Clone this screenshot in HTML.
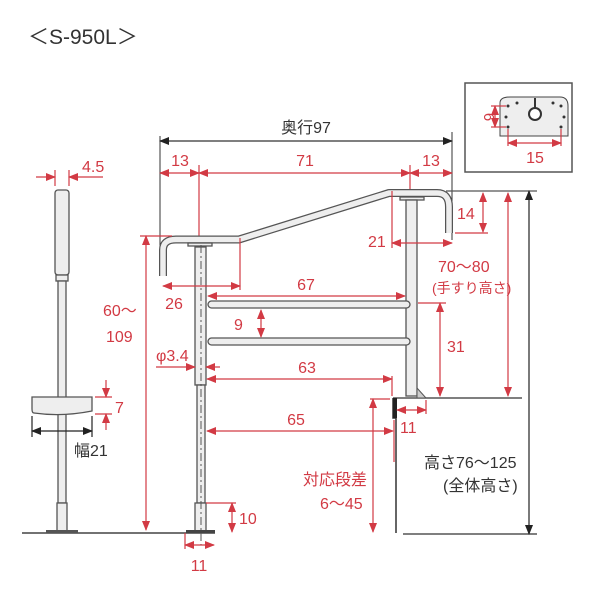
<!DOCTYPE html>
<html><head><meta charset="utf-8"><style>
body{margin:0;background:#fff}
svg{display:block}
text{font-family:"Liberation Sans","Noto Sans CJK JP",sans-serif}
.r{fill:#d23a44;font-size:16px}
.k{fill:#333;font-size:16px}
</style></head><body>
<svg width="600" height="600" viewBox="0 0 600 600" xmlns="http://www.w3.org/2000/svg">
<defs>
<marker id="ar" markerWidth="10" markerHeight="8" refX="9" refY="4" orient="auto-start-reverse" markerUnits="userSpaceOnUse"><path d="M0,0 L10,4 L0,8z" fill="#d23a44"/></marker>
<marker id="ak" markerWidth="10" markerHeight="8" refX="9" refY="4" orient="auto-start-reverse" markerUnits="userSpaceOnUse"><path d="M0,0 L10,4 L0,8z" fill="#222"/></marker>
</defs>
<text x="28" y="44" style="font-size:21px;fill:#333">＜S-950L＞</text>

<!-- inset -->
<rect x="465" y="83" width="107" height="89" fill="#fff" stroke="#555" stroke-width="1.5"/>
<path d="M500,136 V103 Q500,97 510,97 H560 Q568,97 568,106 V136Z" fill="#eee" stroke="#444"/>
<circle cx="535" cy="114" r="6" fill="#fff" stroke="#333" stroke-width="2"/>
<line x1="535" y1="98" x2="535" y2="108" stroke="#333" stroke-width="2"/>
<g fill="#333"><circle cx="508" cy="106" r="1.5"/><circle cx="517" cy="103" r="1.5"/><circle cx="553" cy="103" r="1.5"/><circle cx="561" cy="106" r="1.5"/><circle cx="506" cy="117" r="1.5"/><circle cx="564" cy="117" r="1.5"/><circle cx="508" cy="127" r="1.5"/><circle cx="561" cy="127" r="1.5"/></g>
<g stroke="#d23a44" stroke-width="1.2" fill="none">
<line x1="491" y1="106" x2="506" y2="106"/><line x1="491" y1="127" x2="506" y2="127"/>
<line x1="495" y1="106" x2="495" y2="127" marker-start="url(#ar)" marker-end="url(#ar)"/>
<line x1="508" y1="129" x2="508" y2="146"/><line x1="561" y1="129" x2="561" y2="146"/>
<line x1="508" y1="143" x2="561" y2="143" marker-start="url(#ar)" marker-end="url(#ar)"/>
</g>
<text class="r" x="484" y="117" transform="rotate(90 484 117)" text-anchor="middle" style="font-size:15px">6</text>
<text class="r" x="535" y="163" text-anchor="middle">15</text>

<!-- side view -->
<g stroke="#555" stroke-width="1.3" fill="#eee">
<rect x="55" y="190" width="14" height="85" rx="3"/>
<rect x="56" y="275" width="12" height="6"/>
<rect x="58" y="281" width="8" height="222"/>
<rect x="57" y="503" width="10" height="28"/>
<path d="M32,397 H92 V411 Q62,417 34,413 Q32,413 32,409Z"/>
</g>
<line x1="22" y1="533" x2="215" y2="533" stroke="#444" stroke-width="1.5"/>
<rect x="46" y="530" width="32" height="3" fill="#555"/>
<g stroke="#d23a44" stroke-width="1.2" fill="none">
<line x1="55" y1="170" x2="55" y2="186"/><line x1="69" y1="170" x2="69" y2="186"/>
<line x1="36" y1="177" x2="55" y2="177" marker-end="url(#ar)"/><line x1="103" y1="177" x2="69" y2="177" marker-end="url(#ar)"/>
<line x1="95" y1="397" x2="112" y2="397"/><line x1="95" y1="414" x2="112" y2="414"/>
<line x1="106" y1="380" x2="106" y2="397" marker-end="url(#ar)"/><line x1="106" y1="430" x2="106" y2="414" marker-end="url(#ar)"/>
</g>
<text class="r" x="82" y="172">4.5</text>
<text class="r" x="115" y="413">7</text>
<g stroke="#222" stroke-width="1.2"><line x1="32" y1="416" x2="32" y2="437"/><line x1="92" y1="416" x2="92" y2="437"/>
<line x1="32" y1="431" x2="92" y2="431" marker-start="url(#ak)" marker-end="url(#ak)"/></g>
<text class="k" x="74" y="456">幅21</text>

<!-- top dims -->
<line x1="160" y1="136" x2="160" y2="270" stroke="#333" stroke-width="1"/>
<line x1="452" y1="132" x2="452" y2="240" stroke="#333" stroke-width="1"/>
<line x1="160" y1="141" x2="452" y2="141" stroke="#333" stroke-width="1.2" marker-start="url(#ak)" marker-end="url(#ak)"/>
<text class="k" x="306" y="133" text-anchor="middle">奥行97</text>
<g stroke="#d23a44" stroke-width="1.2" fill="none">
<line x1="199" y1="165" x2="199" y2="245"/><line x1="410" y1="165" x2="410" y2="250"/>
<line x1="160" y1="173" x2="199" y2="173" marker-start="url(#ar)" marker-end="url(#ar)"/>
<line x1="199" y1="173" x2="410" y2="173" marker-start="url(#ar)" marker-end="url(#ar)"/>
<line x1="410" y1="173" x2="452" y2="173" marker-start="url(#ar)" marker-end="url(#ar)"/>
</g>
<text class="r" x="180" y="166" text-anchor="middle">13</text>
<text class="r" x="305" y="166" text-anchor="middle">71</text>
<text class="r" x="431" y="166" text-anchor="middle">13</text>

<!-- handrail -->
<path d="M163,276 V250 Q163,239.5 176,239.5 H239 L389,193 H437 Q449,193 449,207 V233" fill="none" stroke="#555" stroke-width="8" stroke-linejoin="round"/>
<path d="M163,276 V250 Q163,239.5 176,239.5 H239 L389,193 H437 Q449,193 449,207 V233" fill="none" stroke="#eee" stroke-width="5.5" stroke-linejoin="round"/>
<!-- posts -->
<g stroke="#555" stroke-width="1.3" fill="#eee">
<rect x="188" y="243" width="24" height="3"/>
<rect x="195" y="247" width="11" height="138"/>
<rect x="197" y="385" width="8" height="118"/>
<rect x="195" y="503" width="11" height="28"/>
<rect x="400" y="197" width="24" height="3"/>
<rect x="406" y="200" width="11" height="196"/>
<rect x="208" y="301" width="202" height="7" rx="3.5"/>
<rect x="208" y="338" width="202" height="7" rx="3.5"/>
</g>
<line x1="201" y1="245" x2="201" y2="545" stroke="#555" stroke-width="1" stroke-dasharray="8,3,2,3"/>
<rect x="186" y="530" width="29" height="3" fill="#444"/>
<!-- floors -->
<line x1="393" y1="398" x2="522" y2="398" stroke="#555" stroke-width="1.5"/>
<path d="M393,398 V418 H396 V533" fill="none" stroke="#333" stroke-width="1.5"/>
<rect x="393" y="398" width="4" height="20" fill="#222"/>
<path d="M417,388 L426,398 H417Z" fill="#ccc" stroke="#555"/>
<line x1="403" y1="534" x2="537" y2="534" stroke="#555" stroke-width="1.5"/>
<line x1="446" y1="191" x2="537" y2="191" stroke="#555" stroke-width="1.2"/>
<line x1="529" y1="191" x2="529" y2="534" stroke="#222" stroke-width="1.2" marker-start="url(#ak)" marker-end="url(#ak)"/>

<g stroke="#d23a44" stroke-width="1.2" fill="none">
<line x1="140" y1="236" x2="172" y2="236"/>
<line x1="146" y1="236" x2="146" y2="530" marker-start="url(#ar)" marker-end="url(#ar)"/>
<line x1="240" y1="238" x2="240" y2="290"/>
<line x1="163" y1="286" x2="240" y2="286" marker-start="url(#ar)" marker-end="url(#ar)"/>
<line x1="208" y1="296" x2="405" y2="296" marker-start="url(#ar)" marker-end="url(#ar)"/>
<line x1="261" y1="310" x2="261" y2="337" marker-start="url(#ar)" marker-end="url(#ar)"/>
<line x1="156" y1="367" x2="195" y2="367" marker-end="url(#ar)"/><line x1="220" y1="367" x2="206" y2="367" marker-end="url(#ar)"/>
<line x1="392" y1="376" x2="392" y2="396"/>
<line x1="207" y1="379" x2="392" y2="379" marker-start="url(#ar)" marker-end="url(#ar)"/>
<line x1="394" y1="420" x2="394" y2="462"/>
<line x1="207" y1="431" x2="393" y2="431" marker-start="url(#ar)" marker-end="url(#ar)"/>
<line x1="206" y1="503" x2="236" y2="503"/>
<line x1="232" y1="503" x2="232" y2="532" marker-start="url(#ar)" marker-end="url(#ar)"/>
<line x1="185" y1="533" x2="185" y2="549"/>
<line x1="185" y1="545" x2="214" y2="545" marker-start="url(#ar)" marker-end="url(#ar)"/>
<line x1="370" y1="399" x2="390" y2="399"/>
<line x1="373" y1="399" x2="373" y2="532" marker-start="url(#ar)" marker-end="url(#ar)"/>
<line x1="397" y1="410" x2="426" y2="410" marker-start="url(#ar)" marker-end="url(#ar)"/>
<line x1="426" y1="400" x2="426" y2="414"/>
<line x1="392" y1="191" x2="392" y2="248"/>
<line x1="392" y1="243" x2="452" y2="243" marker-start="url(#ar)" marker-end="url(#ar)"/>
<line x1="455" y1="233" x2="488" y2="233"/>
<line x1="483" y1="193" x2="483" y2="232" marker-start="url(#ar)" marker-end="url(#ar)"/>
<line x1="508" y1="193" x2="508" y2="396" marker-start="url(#ar)" marker-end="url(#ar)"/>
<line x1="418" y1="303" x2="446" y2="303"/>
<line x1="440" y1="303" x2="440" y2="396" marker-start="url(#ar)" marker-end="url(#ar)"/>
</g>
<text class="r" x="103" y="316">60～</text>
<text class="r" x="106" y="342">109</text>
<text class="r" x="174" y="309" text-anchor="middle">26</text>
<text class="r" x="306" y="290" text-anchor="middle">67</text>
<text class="r" x="234" y="330">9</text>
<text class="r" x="156" y="361">φ3.4</text>
<text class="r" x="307" y="373" text-anchor="middle">63</text>
<text class="r" x="296" y="425" text-anchor="middle">65</text>
<text class="r" x="239" y="524">10</text>
<text class="r" x="199" y="571" text-anchor="middle">11</text>
<text class="r" x="303" y="485">対応段差</text>
<text class="r" x="320" y="509">6～45</text>
<text class="r" x="400" y="433">11</text>
<text class="r" x="368" y="247">21</text>
<text class="r" x="457" y="219">14</text>
<text class="r" x="438" y="272">70～80</text>
<text class="r" x="432" y="293" style="font-size:14px">(手すり高さ)</text>
<text class="r" x="447" y="352">31</text>
<text class="k" x="424" y="468">高さ76～125</text>
<text class="k" x="443" y="491">(全体高さ)</text>
</svg>
</body></html>
